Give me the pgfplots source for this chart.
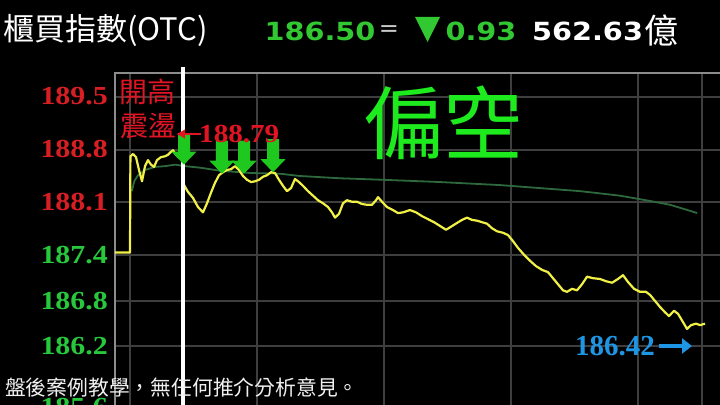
\documentclass[border=0pt]{standalone}
\usepackage{pgfplots}
\pgfplotsset{compat=1.18}
\usepackage{graphicx}
\usepackage{fontspec}
\setmainfont{Liberation Serif}
\newfontfamily\cjk{Noto Sans CJK TC}
\newfontfamily\dv{DejaVu Sans}
\usetikzlibrary{arrows.meta}

\definecolor{tkred}{RGB}{215,30,35}
\definecolor{tkgreen}{RGB}{40,200,60}
\definecolor{hgreen}{RGB}{50,200,50}
\definecolor{kong}{RGB}{30,235,30}
\definecolor{pxblue}{RGB}{30,150,230}
\definecolor{pxyellow}{RGB}{240,240,70}
\definecolor{avggreen}{RGB}{45,105,60}
\definecolor{gridgray}{RGB}{62,62,62}
\definecolor{framegray}{RGB}{140,140,140}
\definecolor{anred}{RGB}{225,20,35}
\definecolor{arrowgreen}{RGB}{30,200,30}

\newcommand\fs[1]{\fontsize{#1bp}{#1bp}\selectfont}
\newcommand\tl[2]{\mbox{\textcolor{#1}{\scalebox{1.15}[1]{#2}}}}
% down arrow at a named tip, shaft length
\newcommand\garrow[2]{%
  \fill[arrowgreen] (#1) -- ++(-12.5bp,13bp) -- ++(6.5bp,0bp) -- ++(0bp,#2)
    -- ++(12bp,0bp) -- ++(0bp,-#2) -- ++(6.5bp,0bp) -- cycle;}

\begin{document}
\begin{tikzpicture}
\useasboundingbox (0,0) rectangle (720bp,405bp);
\fill[black] (0,0) rectangle (720bp,405bp);
\clip (0,0) rectangle (720bp,405bp);

\begin{axis}[
  at={(115bp,-15bp)}, anchor=south west,
  width=615bp, height=347.3bp, scale only axis,
  xmin=-7.087, xmax=283.46, ymin=185.227, ymax=189.8145,
  clip=false,
  axis line style={draw=framegray, line width=1.8bp},
  xtick={0,60,120,180,240,270}, xticklabels={},
  ytick={185.4,186.2,186.8,187.4,188.1,188.8,189.5},
  yticklabels={{\tl{tkgreen}{185.6}},{\tl{tkgreen}{186.2}},{\tl{tkgreen}{186.8}},
    {\tl{tkgreen}{187.4}},{\tl{tkred}{188.1}},{\tl{tkred}{188.8}},{\tl{tkred}{189.5}}},
  major tick length=0pt,
  grid=major, grid style={draw=gridgray, line width=2bp},
  yticklabel style={font=\bfseries\fs{26}, anchor=east, inner sep=0pt, xshift=-7bp},
]
% average price
\addplot[avggreen, line width=1.8bp, line join=round] coordinates {
 (0.9,188.25) (2,188.38) (3.8,188.46) (7.1,188.53) (11.8,188.57) (16.5,188.58)
 (21.3,188.60) (26.0,188.58) (33.1,188.56) (42.5,188.52) (56.7,188.49)
 (70.9,188.48) (80.3,188.45) (99.2,188.42) (119.5,188.40) (146.5,188.37)
 (174.8,188.33) (193.7,188.29) (212.6,188.25) (231.5,188.19) (245.7,188.12)
 (255.1,188.07) (264.6,187.99) (267.9,187.96)};
% index
\addplot[pxyellow, line width=2.2bp, line join=round] coordinates {
 (-7.09,187.44) (0,187.44) (0.2,188.71) (1.42,188.74) (2.83,188.70) (4.25,188.53)
 (5.67,188.38) (7.09,188.58) (8.50,188.66) (9.92,188.60) (11.34,188.57)
 (12.76,188.66) (14.65,188.70) (16.54,188.71) (17.95,188.73) (19.37,188.77)
 (20.31,188.79) (21.73,188.73) (23.15,188.69) (24.57,188.70) (25.51,188.33)
 (27.40,188.24) (29.76,188.16) (32.13,188.04) (34.49,187.97) (36.38,188.09)
 (38.27,188.23) (40.16,188.36) (42.05,188.46) (43.94,188.50) (45.83,188.53)
 (47.72,188.54) (49.61,188.58) (51.50,188.53) (53.39,188.45) (55.28,188.40)
 (57.17,188.37) (59.06,188.38) (60.94,188.40) (62.83,188.44) (64.72,188.46)
 (66.61,188.50) (68.50,188.49) (70.39,188.40) (72.28,188.32) (74.17,188.25)
 (76.06,188.29) (77.95,188.41) (79.84,188.37) (81.73,188.32) (84.09,188.25)
 (86.46,188.19) (88.82,188.13) (91.18,188.09) (93.54,188.04) (95.43,187.97)
 (96.85,187.90) (98.74,187.95) (100.63,188.09) (102.52,188.13) (104.88,188.11)
 (107.24,188.11) (109.61,188.08) (111.97,188.07) (114.33,188.07) (116.22,188.13)
 (117.17,188.17) (119.06,188.11) (121.42,188.04) (124.25,188.00) (126.61,187.96)
 (128.98,187.97) (132.28,188.00) (135.12,187.97) (137.95,187.92) (140.79,187.88)
 (143.62,187.84) (146.46,187.79) (149.29,187.74) (151.65,187.78) (154.49,187.83)
 (156.85,187.87) (159.21,187.90) (161.57,187.87) (163.94,187.86) (166.30,187.84)
 (168.66,187.82) (171.02,187.76) (173.39,187.72) (176.22,187.70) (178.58,187.67)
 (180.94,187.59) (183.31,187.50) (186.14,187.41) (188.98,187.33) (191.81,187.26)
 (194.65,187.21) (197.48,187.18) (199.84,187.10) (202.20,187.02) (204.57,186.94)
 (206.46,186.92) (208.82,186.96) (211.18,186.94) (213.54,187.02) (215.91,187.12)
 (218.74,187.10) (222.05,187.09) (224.88,187.06) (227.72,187.04) (230.55,187.09)
 (232.91,187.14) (235.28,187.05) (238.11,186.96) (240.94,186.92) (243.78,186.92)
 (245.67,186.88) (248.03,186.80) (250.39,186.72) (252.76,186.65) (254.65,186.60)
 (257.01,186.67) (258.90,186.63) (261.26,186.52) (263.15,186.43) (265.04,186.48)
 (267.40,186.50) (269.29,186.48) (271.65,186.50)};
\coordinate (ctop) at (axis cs:25.0,189.89);
\coordinate (cbot) at (axis cs:25.0,185.2);
\coordinate (a1) at (axis cs:25.51,188.60);
\coordinate (a2) at (axis cs:43.46,188.48);
\coordinate (a3) at (axis cs:53.86,188.48);
\coordinate (a4) at (axis cs:67.56,188.50);
\end{axis}

% cursor line and arrows
\draw[white, line width=4bp] (ctop) -- (cbot);
\garrow{a1}{18bp}
\garrow{a2}{20bp}
\garrow{a3}{20bp}
\garrow{a4}{20bp}

% header
\node[anchor=west, inner sep=0pt, text=white] at (3bp,375bp) {\cjk\fs{31}櫃買指數(OTC)};
\node[inner sep=0pt, text=hgreen] at (320bp,374bp) {\dv\bfseries\fs{25}\scalebox{1.15}[1]{186.50}};
\node[inner sep=0pt, text={rgb,255:red,200;green,200;blue,200}] at (389bp,374bp) {\dv\fs{24}=};
\fill[hgreen] (415bp,388bp) -- (440bp,388bp) -- (427.5bp,363bp) -- cycle;
\node[inner sep=0pt, text=hgreen] at (481bp,374bp) {\dv\bfseries\fs{25}\scalebox{1.15}[1]{0.93}};
\node[inner sep=0pt, text=white] at (587.5bp,374bp) {\dv\bfseries\fs{25}\scalebox{1.15}[1]{562.63}};
\node[inner sep=0pt, text=white] at (661bp,374bp) {\cjk\fs{34}億};

% annotations
\node[inner sep=0pt, text=anred] at (147bp,313bp) {\cjk\fs{28}開高};
\node[inner sep=0pt, text=anred] at (148bp,279bp) {\cjk\fs{28}震盪};
\draw[anred, line width=2.5bp, -{Latex[length=9bp,width=10bp]}] (201bp,271bp) -- (176bp,271bp);
\node[anchor=west, inner sep=0pt, text=anred] at (199bp,271bp) {\bfseries\fs{26}\scalebox{1.12}[1]{188.79}};
\node[inner sep=0pt, text=kong] at (443bp,282bp) {\cjk\fs{80}偏空};
\node[inner sep=0pt, text=pxblue] at (615bp,59bp) {\bfseries\fs{29}186.42};
\draw[pxblue, line width=4bp, -{Triangle[length=10bp,width=15bp]}] (659bp,59bp) -- (692bp,59bp);

% footer
\node[anchor=west, inner sep=0pt, text={rgb,255:red,240;green,240;blue,240}] at (5bp,17bp) {\cjk\fs{20.8}盤後案例教學，無任何推介分析意見。};
\end{tikzpicture}
\end{document}
